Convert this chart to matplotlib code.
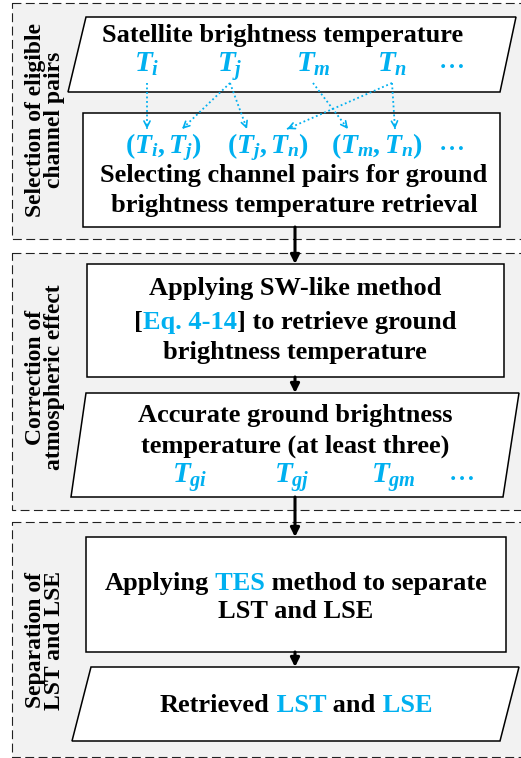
import matplotlib
matplotlib.use("Agg")
import matplotlib.pyplot as plt
from matplotlib.patches import Rectangle, Polygon

plt.rcParams['mathtext.fontset'] = 'custom'
plt.rcParams['mathtext.rm'] = 'Liberation Serif:bold'
plt.rcParams['mathtext.bf'] = 'Liberation Serif:bold'
plt.rcParams['mathtext.it'] = 'Liberation Serif:italic:bold'

BLUE = '#00b0f0'
K = 'black'
FONT = 'Liberation Serif'

# stage names (left side labels)
stages = ["Selection of eligible\nchannel pairs",
          "Correction of\natmospheric effect",
          "Separation of\nLST and LSE"]
# satellite channels and the pairs built from them
channels = [r'$T_i$', r'$T_j$', r'$T_m$', r'$T_n$']
pairs = [r'$(T_i,T_j)$', r'$(T_j,T_n)$', r'$(T_m,T_n)$']
# (channel index, pair index, position in pair)
pair_links = [(0, 0, 0), (1, 0, 1), (1, 1, 0), (2, 2, 0), (3, 1, 1), (3, 2, 1)]
ground = [r'$T_{gi}$', r'$T_{gj}$', r'$T_{gm}$']

fig = plt.figure(figsize=(5.21, 7.58), dpi=100)
ax = fig.add_axes([0, 0, 1, 1])
ax.set_xlim(0, 521)
ax.set_ylim(758, 0)
ax.axis('off')

# dashed stage panels
panels = [(3, 239), (253, 510), (522, 757)]
label_y = [120, 377, 640]
for (y0, y1), ly, name in zip(panels, label_y, stages):
    ax.add_patch(Rectangle((12, y0), 540, y1 - y0, facecolor='#f2f2f2',
                           edgecolor='#222222', lw=0.8, ls=(0, (8, 4))))
    ax.text(45, ly, name, rotation=90, ha='center', va='center',
            fontsize=17, fontweight='bold', family=FONT, linespacing=0.85)


def para(xt0, xt1, xb0, xb1, y0, y1):
    ax.add_patch(Polygon([(xt0, y0), (xt1, y0), (xb1, y1), (xb0, y1)],
                         closed=True, facecolor='white', edgecolor=K, lw=1.1))


def box(x0, x1, y0, y1):
    ax.add_patch(Rectangle((x0, y0), x1 - x0, y1 - y0, facecolor='white',
                           edgecolor=K, lw=1.1))


def arrow(x, y0, y1):
    ax.annotate('', xy=(x, y1), xytext=(x, y0),
                arrowprops=dict(arrowstyle='-|>', color=K, lw=2.2,
                                mutation_scale=13, shrinkA=0, shrinkB=0))


def line(x, y, parts, size=19):
    texts = [ax.text(x, y, s, color=c, fontsize=size, fontweight='bold',
                     family=FONT, ha='left', va='baseline') for s, c in parts]
    r = fig.canvas.get_renderer()
    widths = [t.get_window_extent(r).width for t in texts]
    x0 = x - sum(widths) / 2
    for t, w in zip(texts, widths):
        t.set_x(x0)
        x0 += w


def dots(x, y):
    ax.text(x, y, r'$\cdots$', color=BLUE, fontsize=22, ha='center', va='center')


para(86, 516, 68, 500, 17, 92)
box(83, 500, 113, 227)
box(87, 504, 264, 377)
para(86, 519, 71, 503, 393, 497)
box(86, 506, 537, 652)
para(91, 519, 72, 500, 667, 741)

arrow(295, 227, 264)
arrow(295, 377, 393)
arrow(295, 497, 537)
arrow(295, 652, 667)

# box 1
line(283, 42, [("Satellite brightness temperature", K)])
ch_x = [147, 230, 313, 392]
for x, s in zip(ch_x, channels):
    ax.text(x, 72, s, color=BLUE, fontsize=21, ha='center', va='baseline')
dots(450, 64)

# box 2
pair_x = [163, 268, 377]
slot_x = [[147, 182], [247, 287], [348, 395]]
for x, s in zip(pair_x, pairs):
    ax.text(x, 153, s, color=BLUE, fontsize=20, ha='center', va='baseline')
dots(450, 145)
for ci, pi, k in pair_links:
    sx, sy = ch_x[ci], 83
    ex, ey = slot_x[pi][k], 129
    ax.plot([sx, ex], [sy, ey], color=BLUE, lw=1.3, ls=(0, (1, 1.5)))
    dx, dy = ex - sx, ey - sy
    n = (dx ** 2 + dy ** 2) ** 0.5
    ax.annotate('', xy=(ex, ey), xytext=(ex - dx / n * 4, ey - dy / n * 4),
                arrowprops=dict(arrowstyle='->', color=BLUE, lw=1.2,
                                mutation_scale=11, shrinkA=0, shrinkB=0))

line(294, 182, [("Selecting channel pairs for ground", K)])
line(294, 212, [("brightness temperature retrieval", K)])

# box 3
line(295, 295, [("Applying SW-like method", K)])
line(295, 329, [("[", K), ("Eq. 4-14", BLUE), ("] to retrieve ground", K)])
line(295, 359, [("brightness temperature", K)])

# box 4
line(295, 422, [("Accurate ground brightness", K)])
line(295, 453, [("temperature (at least three)", K)])
for x, s in zip([190, 292, 393], ground):
    ax.text(x, 483, s, color=BLUE, fontsize=21, ha='center', va='baseline')
dots(460, 476)

# box 5
line(296, 590, [("Applying", K), (" TES", BLUE), (" method to separate", K)])
line(296, 618, [("LST and LSE", K)])

# box 6
line(296, 712, [("Retrieved", K), (" LST", BLUE), (" and", K), (" LSE", BLUE)])

fig.savefig("out.png", dpi=100)
